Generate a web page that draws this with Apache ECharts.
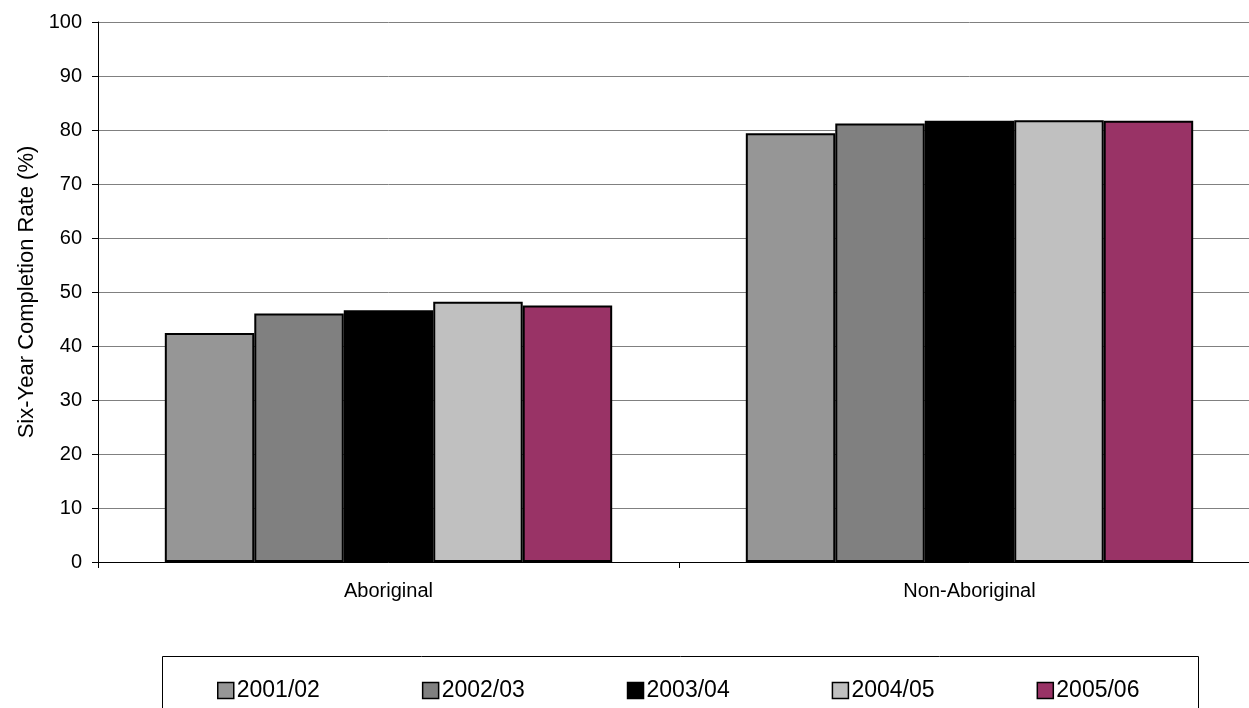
<!DOCTYPE html>
<html>
<head>
<meta charset="utf-8">
<script src="https://cdn.jsdelivr.net/npm/echarts@6/dist/echarts.min.js"></script>
<style>html,body{margin:0;padding:0;background:#fff;overflow:hidden;width:1249px;height:708px}#c{width:1262px;height:708px}</style>
</head>
<body>
<div id="c"></div>
<script>
const categories = ['Aboriginal', 'Non-Aboriginal'];
const seriesNames = ['2001/02', '2002/03', '2003/04', '2004/05', '2005/06'];
const v2001 = [42.4, 79.4];
const v2002 = [46.0, 81.2];
const v2003 = [46.6, 81.7];
const v2004 = [48.2, 81.8];
const v2005 = [47.5, 81.7];
const yTicks = [0, 10, 20, 30, 40, 50, 60, 70, 80, 90, 100];
const colors = ['#969696', '#808080', '#000000', '#C0C0C0', '#993366'];
const values = [v2001, v2002, v2003, v2004, v2005];

const font = 'Liberation Sans, Arial, sans-serif';
const chart = echarts.init(document.getElementById('c'), null, {renderer: 'canvas'});
chart.setOption({
  animation: false,
  backgroundColor: '#fff',
  grid: {left: 98, width: 1162, top: 22, height: 540, containLabel: false},
  graphic: [{
    type: 'rect', shape: {x: 162.5, y: 656.5, width: 1036, height: 80},
    style: {fill: 'none', stroke: '#000', lineWidth: 1}
  }],
  legend: {
    left: 212, top: 674, itemGap: 102, itemWidth: 16, itemHeight: 16,
    icon: 'rect',
    textStyle: {fontFamily: font, fontSize: 23, color: '#000', padding: [0, 0, 0, -2]},
    itemStyle: {borderColor: '#000', borderWidth: 1.5},
    data: seriesNames
  },
  xAxis: {
    type: 'category', data: categories,
    axisLine: {lineStyle: {color: '#000', width: 1}},
    axisTick: {show: true, length: 6, inside: false, lineStyle: {color: '#000'}},
    axisLabel: {fontFamily: font, fontSize: 20, color: '#000', margin: 19},
    splitLine: {show: false}
  },
  yAxis: {
    type: 'value', min: yTicks[0], max: yTicks[yTicks.length - 1], interval: 10,
    name: 'Six-Year Completion Rate (%)', nameLocation: 'middle', nameGap: 53,
    nameTextStyle: {fontFamily: font, fontSize: 22, color: '#000'},
    axisLine: {show: true, lineStyle: {color: '#000', width: 1}},
    axisTick: {show: true, length: 6, lineStyle: {color: '#000'}},
    axisLabel: {fontFamily: font, fontSize: 20, color: '#000', margin: 16},
    splitLine: {show: true, lineStyle: {color: '#808080', width: 1}}
  },
  series: seriesNames.map((n, i) => ({
    name: n, type: 'bar', data: values[i],
    barGap: '0%', barCategoryGap: '23%',
    itemStyle: {color: colors[i], borderColor: '#000', borderWidth: 2}
  }))
});
</script>
</body>
</html>
